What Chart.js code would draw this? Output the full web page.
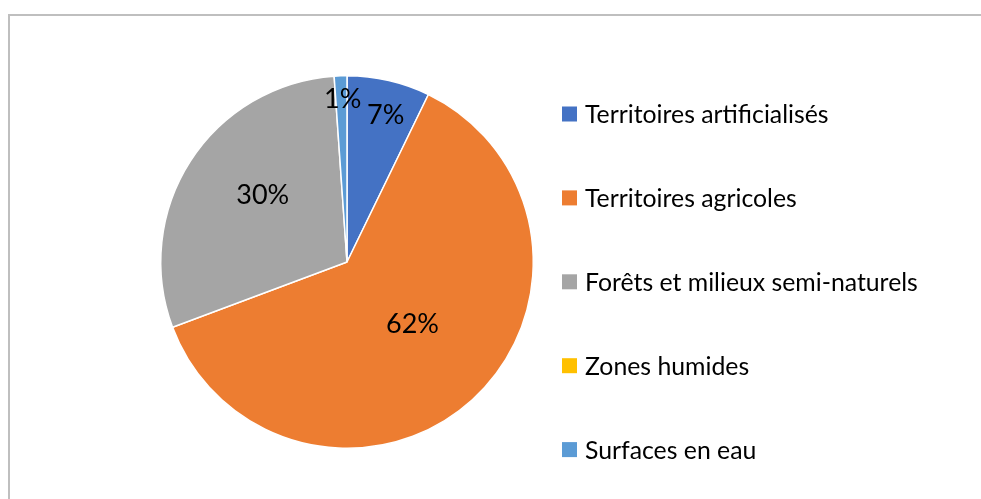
<!DOCTYPE html>
<html>
<head>
<meta charset="utf-8">
<script src="https://cdn.jsdelivr.net/npm/chart.js@4.4.1/dist/chart.umd.min.js"></script>
<style>
  html, body { margin: 0; padding: 0; background: #fff; overflow: hidden; }
  #frame { position: absolute; left: 8px; top: 14px; width: 1000px; height: 600px; border: 2px solid #bfbfbf; }
  #wrap { position: absolute; left: 0; top: 0; width: 981px; height: 499px; }
</style>
</head>
<body>
<div id="frame"></div>
<div id="wrap"><canvas id="chart" width="981" height="499"></canvas></div>
<script>
// Land cover categories and their share of the surface (%)
const categories = [
    'Territoires artificialisés',
    'Territoires agricoles',
    'Forêts et milieux semi-naturels',
    'Zones humides',
    'Surfaces en eau'
];
const shares = [7.2, 62.1, 29.6, 0, 1.1];
const sliceColors = ['#4472C4', '#ED7D31', '#A5A5A5', '#FFC000', '#5B9BD5'];

// Percentage labels inside the slices
const sliceLabels = {
    id: 'sliceLabels',
    afterDatasetsDraw(chart, args, opts) {
        const ctx = chart.ctx;
        const meta = chart.getDatasetMeta(0);
        const data = chart.data.datasets[0].data;
        const total = data.reduce((a, b) => a + b, 0);
        ctx.save();
        ctx.font = opts.size + 'px ' + opts.family;
        ctx.fillStyle = '#000';
        ctx.textAlign = 'center';
        ctx.textBaseline = 'alphabetic';
        meta.data.forEach((arc, i) => {
            const v = data[i];
            if (!v) return;
            const p = arc.getProps(['x', 'y', 'startAngle', 'endAngle', 'outerRadius'], true);
            const mid = (p.startAngle + p.endAngle) / 2 + opts.nudge[i] * Math.PI / 180;
            const r = p.outerRadius * opts.radial[i];
            const cx = p.x + Math.cos(mid) * r;
            const cy = p.y + Math.sin(mid) * r;
            ctx.fillText(Math.round(v / total * 100) + '%', cx, cy + opts.size * 0.36);
        });
        ctx.restore();
    }
};

// Legend on the right, widely spaced
const sideLegend = {
    id: 'sideLegend',
    afterDraw(chart, args, opts) {
        const ctx = chart.ctx;
        const colors = chart.data.datasets[0].backgroundColor;
        ctx.save();
        ctx.font = opts.size + 'px ' + opts.family;
        ctx.textAlign = 'left';
        ctx.textBaseline = 'alphabetic';
        chart.data.labels.forEach((label, i) => {
            const cy = opts.top + i * opts.step;
            ctx.fillStyle = colors[i];
            ctx.fillRect(opts.x, cy - opts.box / 2, opts.box, opts.box);
            ctx.fillStyle = '#000';
            ctx.fillText(label, opts.x + opts.box + 8, cy + opts.size * 0.36);
        });
        ctx.restore();
    }
};

new Chart(document.getElementById('chart'), {
    type: 'pie',
    data: {
        labels: categories,
        datasets: [{
            data: shares,
            backgroundColor: sliceColors,
            borderColor: '#fff',
            borderWidth: 1.5
        }]
    },
    options: {
        responsive: false,
        animation: false,
        layout: { padding: { left: 160, right: 447, top: 75, bottom: 50 } },
        plugins: {
            legend: { display: false },
            tooltip: { enabled: false },
            sliceLabels: {
                size: 27, family: 'Lato',
                radial: [0.82, 0.48, 0.58, 0.6, 0.88],
                nudge: [1.7, -4.8, 6, 0, 0.5]
            },
            sideLegend: { x: 562, top: 114, step: 83.9, box: 15, size: 24.8, family: 'Lato' }
        }
    },
    plugins: [sliceLabels, sideLegend]
});
</script>
</body>
</html>
